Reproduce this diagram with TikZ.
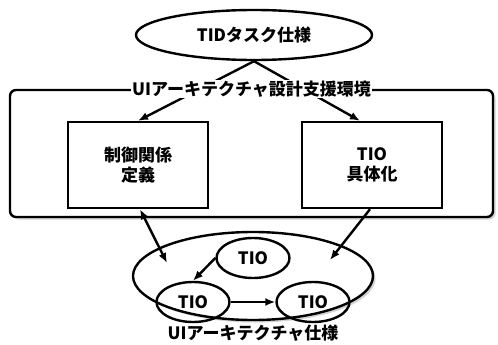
\documentclass[tikz,border=0pt]{standalone}
\usepackage{fontspec}
\setmainfont{Noto Sans CJK JP}
\usetikzlibrary{arrows.meta,shapes.geometric,shadows}
\begin{document}
\begin{tikzpicture}[x=1pt,y=-1pt,line width=2.4pt,
  every node/.style={font=\fontsize{17}{20}\selectfont\bfseries,align=center},
  spec/.style={draw,ellipse,inner sep=0pt},
  tiobox/.style={draw,ellipse,inner sep=0pt,minimum width=73pt,minimum height=40pt},
  funcbox/.style={draw,rectangle,minimum width=140pt,minimum height=86pt},
  shade/.style={drop shadow={shadow xshift=2.5pt,shadow yshift=-2.5pt,fill=gray!70}},
  arr/.style={-{Latex[length=10pt,width=8pt]}},
  biarr/.style={{Latex[length=10pt,width=8pt]}-{Latex[length=10pt,width=8pt]}}]
  \useasboundingbox (0,0) rectangle (498,345);

  \draw (254,35) node[spec,minimum width=236pt,minimum height=50pt](task) {TIDタスク仕様};

  \draw (251.5,153.5) node[draw,rounded corners=6pt,shade,fill=white,minimum width=483pt,minimum height=127pt](env) {};

  \draw (138,165) node[funcbox](ctrl) {制御関係\\定義};
  \draw (372,165) node[funcbox](tio)  {TIO\\具体化};

  \path[draw,arr] (task.south) -- (ctrl.north);
  \path[draw,arr] (task.south) -- ([xshift=-12pt]tio.north);

  \draw (env.north) node[fill=white,inner sep=1pt](envlabel) {UIアーキテクチャ設計支援環境};

  \draw (253,276) node[spec,shade,fill=white,minimum width=240pt,minimum height=88pt](arch) {};
  \draw (253,258) node[tiobox](t1) {TIO};
  \draw (193,302) node[tiobox](t2) {TIO};
  \draw (313,302) node[tiobox](t3) {TIO};
  \draw (253,333) node[inner sep=0pt](archlabel) {UIアーキテクチャ仕様};

  \coordinate (inL) at (167,263);
  \coordinate (inR) at (330,260);

  \path[draw,biarr] ([xshift=2pt]ctrl.south) -- (inL);
  \path[draw,arr] ([xshift=-2pt]tio.south) -- (inR);

  \path[draw,arr] (t1.west) -- (t2.north);
  \path[draw,arr] (t2.east) -- (t3.west);

\end{tikzpicture}
\end{document}
